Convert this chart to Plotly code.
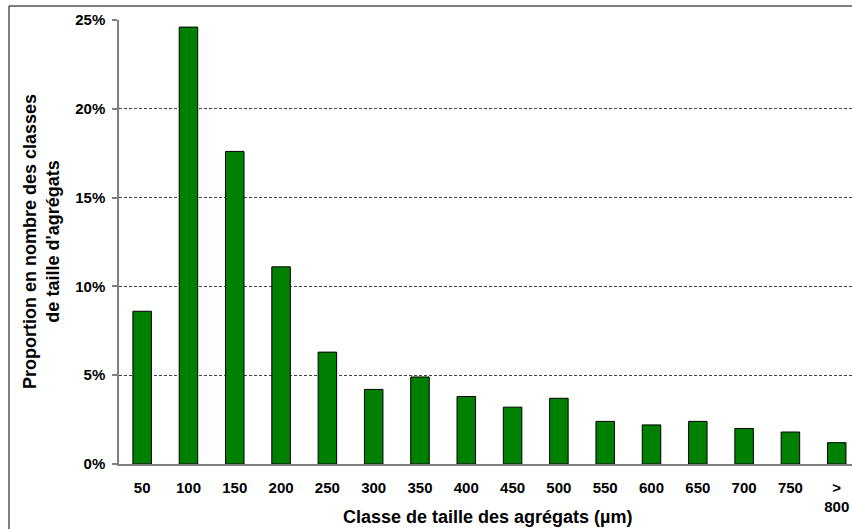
import plotly.graph_objects as go

categories = ["50", "100", "150", "200", "250", "300", "350", "400", "450", "500",
              "550", "600", "650", "700", "750", "><br>800"]
proportions = [8.6, 24.6, 17.6, 11.1, 6.3, 4.2, 4.9, 3.8, 3.2, 3.7,
               2.4, 2.2, 2.4, 2.0, 1.8, 1.2]
y_ticks = [0, 5, 10, 15, 20, 25]
y_tick_labels = ["0%", "5%", "10%", "15%", "20%", "25%"]

FONT = "Arial, Liberation Sans, sans-serif"

fig = go.Figure()
fig.add_trace(go.Bar(
    x=list(range(len(categories))),
    y=proportions,
    width=0.4,
    marker=dict(color="#008000", line=dict(color="#000000", width=1)),
    hoverinfo="skip",
))

fig.update_layout(
    width=852, height=529,
    margin=dict(l=119, r=0, t=20, b=65),
    paper_bgcolor="white", plot_bgcolor="white",
    showlegend=False,
    font=dict(family=FONT, color="black"),
    xaxis=dict(
        range=[-0.5, 15.33],
        tickmode="array",
        tickvals=list(range(len(categories))),
        ticktext=["<b>%s</b>" % c for c in categories],
        tickfont=dict(size=15, family=FONT, color="black"),
        ticks="",
        ticklabelstandoff=9,
        showline=True, linecolor="#808080", linewidth=1.5,
        showgrid=False, zeroline=False,
        fixedrange=True,
    ),
    yaxis=dict(
        range=[0, 25],
        tickmode="array",
        tickvals=y_ticks,
        ticktext=["<b>%s</b>" % t for t in y_tick_labels],
        tickfont=dict(size=15, family=FONT, color="black"),
        ticks="outside", ticklen=5, tickcolor="#808080", tickwidth=1.5,
        ticklabelstandoff=4,
        showline=True, linecolor="#808080", linewidth=1.5,
        showgrid=True, gridcolor="#444444", gridwidth=1, griddash="3px,2px",
        zeroline=False,
        fixedrange=True,
    ),
    annotations=[
        dict(
            text="<b>Proportion en nombre des classes<br>de taille d'agrégats</b>",
            textangle=-90,
            xref="paper", yref="paper",
            x=(41 - 119) / 733, y=0.5,
            xanchor="center", yanchor="middle",
            showarrow=False,
            font=dict(size=18, family=FONT, color="black"),
        ),
        dict(
            text="<b>Classe de taille des agrégats (µm)</b>",
            xref="paper", yref="paper",
            x=(488 - 119) / 733, y=(464 - 517) / 444,
            xanchor="center", yanchor="middle",
            showarrow=False,
            font=dict(size=18, family=FONT, color="black"),
        ),
    ],
    shapes=[
        dict(type="line", xref="paper", yref="paper",
             x0=(9 - 119) / 733, x1=1.05, y0=(464 - 6) / 444, y1=(464 - 6) / 444,
             line=dict(color="black", width=1)),
        dict(type="line", xref="paper", yref="paper",
             x0=(9 - 119) / 733, x1=(9 - 119) / 733, y0=(464 - 6) / 444, y1=-0.2,
             line=dict(color="black", width=1)),
    ],
)

fig.write_html(
    "out.html",
    config={"displayModeBar": False},
    post_script="document.body.style.margin='0';document.body.style.overflow='hidden';",
)
